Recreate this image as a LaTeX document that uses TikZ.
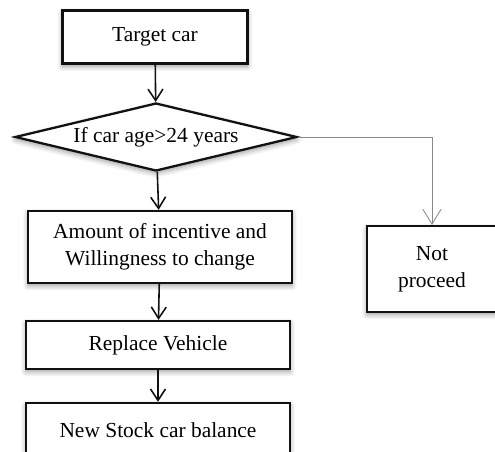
\documentclass[tikz,border=0pt]{standalone}
\usepackage{fontspec}
\setmainfont{Liberation Serif}
\usetikzlibrary{arrows.meta,shapes.geometric,shadows.blur}
\definecolor{ink}{HTML}{111111}
\definecolor{side}{HTML}{8A8A8A}
\tikzset{
 soft/.style={blur shadow={shadow blur steps=8,shadow xshift=0pt,shadow yshift=-1.5pt,shadow opacity=40,shadow blur radius=3pt}},
 stepbox/.style={draw=ink,line width=1.3pt,fill=white,align=center,inner sep=0pt,soft},
 agetest/.style={draw=ink,line width=1.3pt,fill=white,diamond,aspect=4.15,inner sep=0pt,
  minimum width=5.64cm,minimum height=1.36cm,soft},
 flow/.style={-{Straight Barb[length=6.5pt,width=8.5pt]},line width=0.9pt,draw=ink},
 reject/.style={-{Straight Barb[length=8.5pt,width=10.5pt]},line width=0.5pt,draw=side}
}
\begin{document}
\begin{tikzpicture}[x=0.02cm,y=-0.02cm,font=\fontsize{12.2}{15.4}\selectfont]
\clip (0,0) rectangle (495,451);
% main column
\node[stepbox,minimum width=3.7cm,minimum height=1.06cm] (target) at (155,37) {Target car};
\node[agetest] (agecheck) at (156,137) {If car age>24 years};
\node[stepbox,minimum width=5.28cm,minimum height=1.44cm] (incentive) at (160,247) {Amount of incentive and\\Willingness to change};
\node[stepbox,minimum width=5.28cm,minimum height=0.96cm] (replace) at (158,345) {Replace Vehicle};
\node[stepbox,minimum width=5.28cm,minimum height=1.08cm] (stock) at (158,430) {New Stock car balance};
% side branch
\node[stepbox,minimum width=2.6cm,minimum height=1.72cm] (notproceed) at (432,269) {Not\\proceed};
\draw[flow] (target) -- (agecheck);
\draw[flow] (agecheck) -- (incentive);
\draw[flow] (incentive) -- (replace);
\draw[flow] (replace) -- (stock);
\draw[reject] (agecheck.east) -| (notproceed.north);
\end{tikzpicture}
\end{document}
